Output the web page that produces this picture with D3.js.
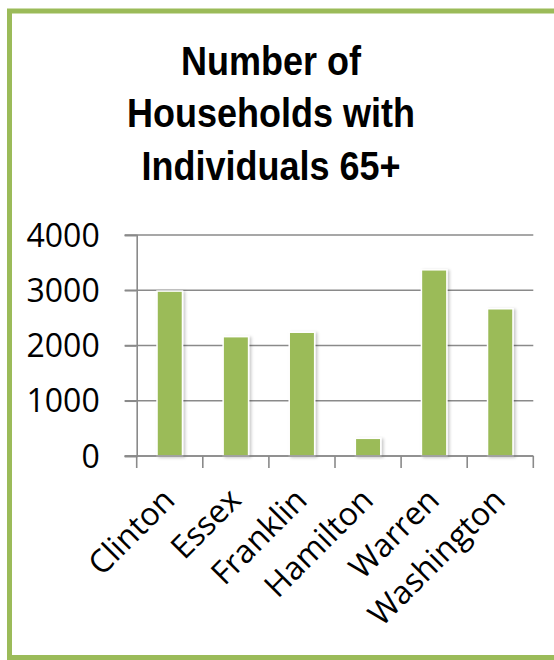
<!DOCTYPE html>
<html>
<head>
<meta charset="utf-8">
<script src="https://cdn.jsdelivr.net/npm/d3@7"></script>
<style>
  html, body { margin: 0; padding: 0; background: #fff; }
  svg { display: block; }
</style>
</head>
<body>
<div id="chart"></div>
<script>
const categories = ["Clinton", "Essex", "Franklin", "Hamilton", "Warren", "Washington"];
const values = [2985, 2160, 2240, 320, 3370, 2665];
const yTicks = [0, 1000, 2000, 3000, 4000];
const titleLines = ["Number of", "Households with", "Individuals 65+"];

const W = 554, H = 660;
const labelFont = "'Open Sans', 'Noto Sans', sans-serif";
const svg = d3.select("#chart").append("svg").attr("width", W).attr("height", H);

const defs = svg.append("defs");
const f = defs.append("filter").attr("id", "shadow").attr("x", "-30%").attr("y", "-10%").attr("width", "160%").attr("height", "130%");
f.append("feDropShadow").attr("dx", 2).attr("dy", 1).attr("stdDeviation", 1.6).attr("flood-color", "#000").attr("flood-opacity", 0.22);

// border
svg.append("rect").attr("x", 9.5).attr("y", 11).attr("width", 600).attr("height", 646.5)
  .attr("fill", "none").attr("stroke", "#9BBB59").attr("stroke-width", 5);

// title
const title = svg.append("g").attr("transform", "translate(271,0) scale(0.9,1)");
title.selectAll("text").data(titleLines).join("text")
  .attr("x", 0).attr("y", (d, i) => 75 + i * 52.5)
  .attr("text-anchor", "middle")
  .attr("font-family", "'Liberation Sans', Arial, sans-serif")
  .attr("font-weight", "bold").attr("font-size", 40).attr("fill", "#000")
  .text(d => d);

const x0 = 136.7, x1 = 533.3, yTop = 235, yBot = 456;
const x = d3.scaleBand().domain(categories).range([x0, x1]).padding(0);
const y = d3.scaleLinear().domain([0, 4000]).range([yBot, yTop]);

const gridColor = "#8a8a8a";
// gridlines
svg.append("g").selectAll("line").data(yTicks).join("line")
  .attr("x1", x0 - 12).attr("x2", x1)
  .attr("y1", d => y(d)).attr("y2", d => y(d))
  .attr("stroke", gridColor).attr("stroke-width", 1.6);

// y axis
const yAxis = svg.append("g").attr("transform", `translate(${x0},0)`)
  .call(d3.axisLeft(y).tickValues(yTicks).tickFormat(d3.format("d")).tickSize(12).tickPadding(25));
yAxis.select(".domain").attr("stroke", gridColor).attr("stroke-width", 1.6);
yAxis.selectAll(".tick line").attr("stroke", gridColor).attr("stroke-width", 1.6);
yAxis.selectAll(".tick text").attr("font-family", labelFont)
  .attr("font-size", 32).attr("fill", "#000").attr("dy", "0.35em");

// x axis
const xAxis = svg.append("g").attr("transform", `translate(0,${yBot})`)
  .call(d3.axisBottom(x).tickSize(0).tickFormat(""));
xAxis.select(".domain").remove();
const edges = categories.map(c => x(c)).concat([x1]);
svg.append("g").selectAll("line").data(edges).join("line")
  .attr("x1", d => d).attr("x2", d => d).attr("y1", yBot).attr("y2", yBot + 12)
  .attr("stroke", gridColor).attr("stroke-width", 1.6);

// bars
const barW = x.bandwidth() * 0.385;
svg.append("g").selectAll("rect").data(categories).join("rect")
  .attr("x", d => x(d) + (x.bandwidth() - barW) / 2)
  .attr("width", barW)
  .attr("y", (d, i) => y(values[i]))
  .attr("height", (d, i) => yBot - y(values[i]))
  .attr("fill", "#9BBB59").attr("stroke", "#fff").attr("stroke-width", 1.5)
  .attr("filter", "url(#shadow)");

// x axis baseline drawn over bars
svg.append("line").attr("x1", x0 - 12).attr("x2", x1).attr("y1", yBot).attr("y2", yBot)
  .attr("stroke", gridColor).attr("stroke-width", 1.6);

// category labels
svg.append("g").selectAll("text").data(categories).join("text")
  .attr("transform", d => `translate(${x(d) + x.bandwidth() / 2 + 7},${yBot + 46}) rotate(-45)`)
  .attr("text-anchor", "end")
  .attr("font-family", labelFont)
  .attr("font-size", 32).attr("fill", "#000")
  .text(d => d);
</script>
</body>
</html>
